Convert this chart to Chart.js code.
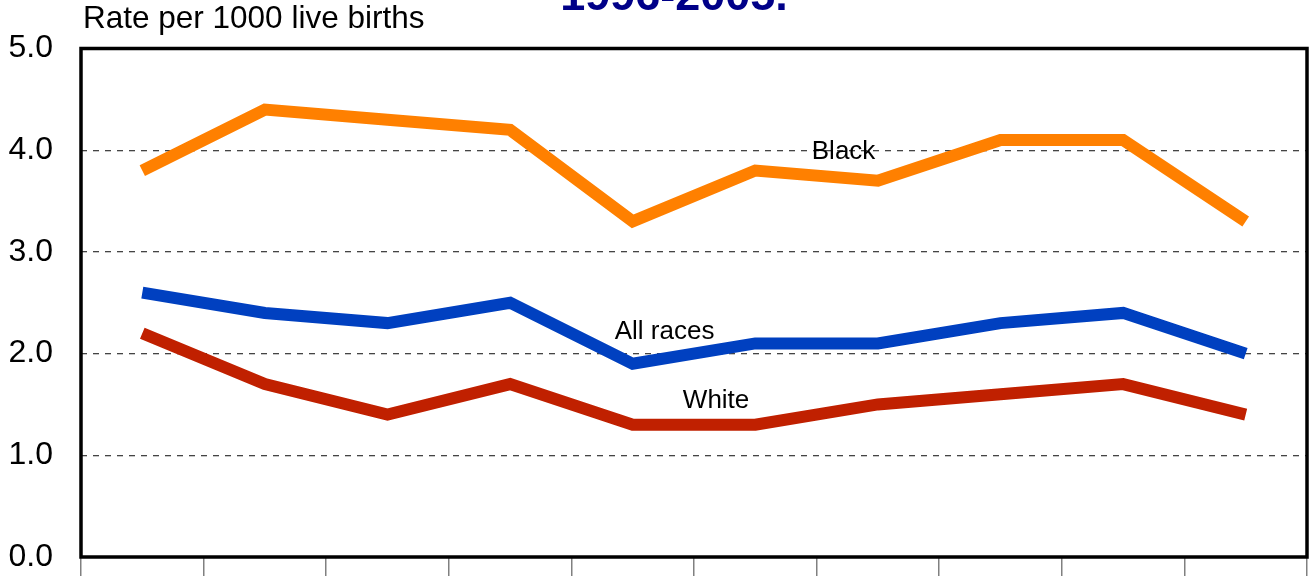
<!DOCTYPE html>
<html>
<head>
<meta charset="utf-8">
<script src="https://cdn.jsdelivr.net/npm/chart.js@4/dist/chart.umd.min.js"></script>
<style>
html,body{margin:0;padding:0;background:#fff;overflow:hidden;}
#wrap{width:1314px;height:576px;position:relative;}
</style>
</head>
<body>
<div id="wrap"><canvas id="c" width="1314" height="576"></canvas></div>
<script>
const years = ["1996","1997","1998","1999","2000","2001","2002","2003","2004","2005"];
const black = [3.8, 4.4, 4.3, 4.2, 3.3, 3.8, 3.7, 4.1, 4.1, 3.3];
const allRaces = [2.6, 2.4, 2.3, 2.5, 1.9, 2.1, 2.1, 2.3, 2.4, 2.0];
const white = [2.2, 1.7, 1.4, 1.7, 1.3, 1.3, 1.5, 1.6, 1.7, 1.4];
const seriesNames = ["Black", "All races", "White"];
const titleText = "1996-2005.";
const yAxisTitle = "Rate per 1000 live births";
// label anchor positions in data units (category index, rate)
const labelX = [5.72, 4.26, 4.68];
const labelY = [3.98, 2.21, 1.54];

const FONT = "'Liberation Sans', Arial, sans-serif";

const decor = {
  id: 'decor',
  afterDatasetsDraw(chart) {
    const {ctx, chartArea: a, scales} = chart;
    ctx.save();
    ctx.strokeStyle = '#000';
    ctx.lineWidth = 3.5;
    ctx.strokeRect(a.left, a.top, a.right - a.left, a.bottom - a.top);
    ctx.fillStyle = '#000';
    ctx.font = "26px " + FONT;
    ctx.textAlign = 'center';
    ctx.textBaseline = 'middle';
    seriesNames.forEach((n, i) => {
      ctx.fillText(n, scales.x.getPixelForValue(labelX[i]), scales.y.getPixelForValue(labelY[i]));
    });
    ctx.restore();
  },
  afterDraw(chart) {
    const {ctx, chartArea: a} = chart;
    ctx.save();
    ctx.fillStyle = '#000';
    ctx.font = "31.5px " + FONT;
    ctx.textAlign = 'left';
    ctx.textBaseline = 'alphabetic';
    ctx.fillText(yAxisTitle, a.left + 2, 28);
    ctx.fillStyle = '#000088';
    ctx.font = "bold 45px " + FONT;
    ctx.textAlign = 'center';
    ctx.fillText(titleText, 674, 10);
    ctx.restore();
  }
};

const lineDs = (label, data, color) => ({
  label, data,
  borderColor: color,
  backgroundColor: color,
  borderWidth: 12,
  pointRadius: 0,
  pointHoverRadius: 0,
  tension: 0,
  borderJoinStyle: 'miter',
  borderCapStyle: 'butt',
  fill: false
});

new Chart(document.getElementById('c'), {
  type: 'line',
  data: {
    labels: years,
    datasets: [
      lineDs(seriesNames[0], black, '#FF8000'),
      lineDs(seriesNames[1], allRaces, '#0040C0'),
      lineDs(seriesNames[2], white, '#C02000')
    ]
  },
  options: {
    responsive: false,
    animation: false,
    events: [],
    layout: {padding: {left: 0, right: 7, top: 48.5, bottom: 0}},
    plugins: {legend: {display: false}, tooltip: {enabled: false}, title: {display: false}},
    scales: {
      x: {
        offset: true,
        grid: {offset: true, drawOnChartArea: false, drawTicks: true, tickLength: 19, color: '#808080', lineWidth: 1.5},
        border: {display: false},
        ticks: {display: false}
      },
      y: {
        min: 0, max: 5,
        afterFit(s) { s.width = 81; s.paddingTop = 0; s.paddingBottom = 0; },
        grid: {drawTicks: false, color: '#444', lineWidth: 1.3},
        border: {display: false, dash: [6, 6]},
        ticks: {
          stepSize: 1,
          padding: 28,
          color: '#000',
          font: {family: FONT, size: 32},
          callback: v => Number(v).toFixed(1)
        }
      }
    }
  },
  plugins: [decor]
});
</script>
</body>
</html>
